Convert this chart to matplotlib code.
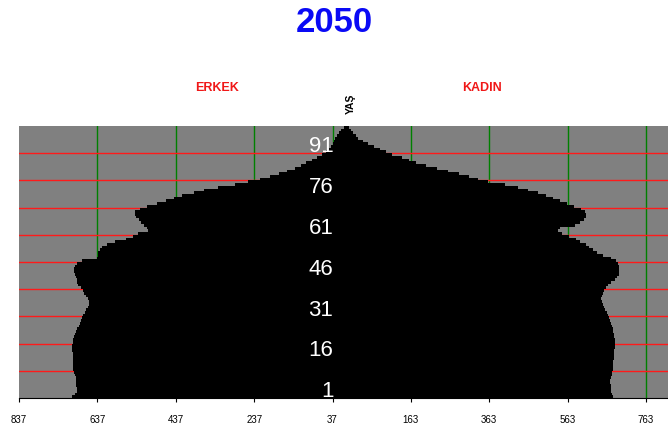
import numpy as np
import matplotlib
matplotlib.use("Agg")
import matplotlib.pyplot as plt

# population pyramid 2050, one row per age (0 at the bottom)
male = [701, 694, 689, 689, 691, 691, 691, 691, 694, 696,
        699, 699, 699, 699, 699, 699, 699, 701, 701, 701,
        699, 699, 696, 694, 691, 689, 684, 681, 679, 676,
        673, 668, 666, 661, 658, 658, 661, 666, 671, 673,
        679, 686, 689, 689, 691, 694, 696, 696, 694, 689,
        676, 638, 635, 635, 630, 625, 612, 592, 564, 546,
        533, 508, 510, 518, 526, 531, 538, 541, 541, 528,
        510, 485, 462, 441, 421, 390, 365, 329, 286, 253,
        222, 196, 174, 153, 133, 117, 105, 89, 77, 64,
        54, 46, 41, 36, 33, 31, 26, 20, 15, 8]
female = [679, 676, 673, 673, 673, 671, 671, 673, 676, 676,
          679, 679, 679, 679, 681, 681, 681, 681, 684, 684,
          684, 684, 681, 681, 679, 679, 676, 673, 671, 668,
          666, 663, 658, 656, 653, 651, 648, 651, 653, 656,
          661, 666, 673, 684, 689, 694, 694, 694, 694, 691,
          686, 673, 652, 638, 628, 617, 610, 594, 584, 566,
          548, 538, 543, 582, 594, 605, 610, 610, 607, 597,
          579, 561, 543, 526, 508, 487, 462, 436, 403, 360,
          334, 311, 286, 258, 230, 202, 176, 158, 140, 115,
          100, 84, 69, 54, 41, 28, 23, 15, 10, 5]
age_labels = ["1", "16", "31", "46", "61", "76", "91"]
label_rows = [1, 16, 31, 46, 61, 76, 91]
xtick_vals = [-837, -637, -437, -237, -37, 163, 363, 563, 763]
xtick_text = ["837", "637", "437", "237", "37", "163", "363", "563", "763"]

ages = np.arange(len(male))

fig = plt.figure(figsize=(6.68, 4.28), dpi=100)
ax = fig.add_axes([19 / 668, 1 - 398 / 428, 1 - 19 / 668, 272 / 428])
ax.set_facecolor("#808080")

ax.barh(ages, -np.array(male), height=1.0, align="edge", color="black", zorder=2)
ax.barh(ages, female, height=1.0, align="edge", color="black", zorder=2)

ax.set_xlim(-837, 819)
ax.set_ylim(0, 100)

# grid: green verticals, red horizontals, behind the bars
for v in xtick_vals[1:]:
    ax.axvline(v, color="#008000", lw=1.0, zorder=1)
for y in range(10, 100, 10):
    ax.axhline(y, color="#ff1a1a", lw=1.0, zorder=1)

ax.set_xticks(xtick_vals)
ax.set_xticklabels(xtick_text, fontsize=7, family="Liberation Sans")
ax.tick_params(axis="x", length=3, width=0.8, pad=9, colors="black")
ax.set_yticks([])
for s in ["top", "right", "left"]:
    ax.spines[s].set_visible(False)
ax.spines["bottom"].set_linewidth(0.8)

for lab, r in zip(age_labels, label_rows):
    ax.text(-35, r + 1.3, lab, color="white", fontsize=16, ha="right", va="center",
            family="Liberation Sans", zorder=3)

fig.text(0.5, 1 - 22 / 428, "2050", color="#0a0af5", fontsize=25, fontweight="bold",
         ha="center", va="center", family="Liberation Sans")
fig.text(217 / 668, 1 - 88 / 428, "ERKEK", color="#f01818", fontsize=9,
         fontweight="bold", ha="center", va="center", family="Liberation Sans")
fig.text(482 / 668, 1 - 88 / 428, "KADIN", color="#f01818", fontsize=9,
         fontweight="bold", ha="center", va="center", family="Liberation Sans")
fig.text(351 / 668, 1 - 104 / 428, "YAŞ", color="black", fontsize=7.5,
         fontweight="bold", ha="center", va="center", rotation=90,
         family="Liberation Sans")

fig.savefig("out.png", dpi=100)
